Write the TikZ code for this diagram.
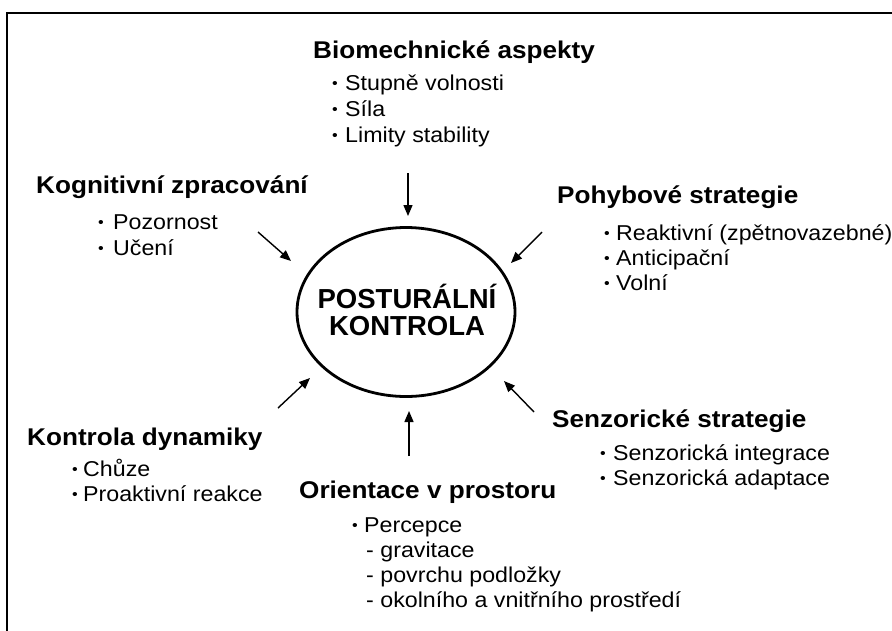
\documentclass[tikz,border=0pt]{standalone}
\usepackage{fontspec}
\setmainfont{Liberation Sans}[FakeStretch=1.08]
\newfontfamily\cfont{Liberation Sans}[FakeStretch=1.0]
\usetikzlibrary{shapes.geometric,arrows.meta}
\newcommand\bul[1]{\makebox[#1][l]{\fontsize{15}{15}\selectfont\raisebox{1.5pt}{•}}}
\begin{document}
\begin{tikzpicture}[x=1pt,y=-1pt,
 head/.style={font=\fontsize{24.2}{28}\selectfont\bfseries, anchor=base west, inner sep=0},
 itm/.style={font=\fontsize{21.5}{25}\selectfont, anchor=base west, inner sep=0},
 ctr/.style={font=\cfont\fontsize{27.5}{31}\selectfont\bfseries, anchor=base, inner sep=0},
 arr/.style={line width=1.4pt, -{Triangle[length=11pt,width=9pt]}},
 frame/.style={line width=2.5pt}]
\useasboundingbox (0,0) rectangle (892,630);
\fill[white] (0,0) rectangle (892,630);
% frame
\coordinate (fa) at (7,631);
\coordinate (fb) at (7,13);
\coordinate (fc) at (893,13);
\draw[frame] (fa) -- (fb) -- (fc);
% centre
\node[ellipse, draw, line width=2.8pt, minimum width=218pt, minimum height=169pt, inner sep=0] (ell) at (406,312) {};
\node[ctr] (c1) at (407,308) {POSTURÁLNÍ};
\node[ctr] (c2) at (407,335) {KONTROLA};
% Biomechanicke
\node[head] (h1) at (313,58) {Biomechnické aspekty};
\node[itm] (h1a) at (332,90) {\bul{13pt}Stupně volnosti};
\node[itm] (h1b) at (332,116) {\bul{13pt}Síla};
\node[itm] (h1c) at (332,142) {\bul{13pt}Limity stability};
% Kognitivni
\node[head] (h2) at (36,193) {Kognitivní zpracování};
\node[itm] (h2a) at (98,229) {\bul{15pt}Pozornost};
\node[itm] (h2b) at (98,255) {\bul{15pt}Učení};
% Pohybove
\node[head] (h3) at (557,203) {Pohybové strategie};
\node[itm] (h3a) at (604,240) {\bul{12pt}Reaktivní (zpětnovazebné)};
\node[itm] (h3b) at (604,265) {\bul{12pt}Anticipační};
\node[itm] (h3c) at (604,290) {\bul{12pt}Volní};
% Kontrola dynamiky
\node[head] (h4) at (27,445) {Kontrola dynamiky};
\node[itm] (h4a) at (72,476) {\bul{11pt}Chůze};
\node[itm] (h4b) at (72,501) {\bul{11pt}Proaktivní reakce};
% Senzoricke
\node[head] (h5) at (552,427) {Senzorické strategie};
\node[itm] (h5a) at (600,460) {\bul{13pt}Senzorická integrace};
\node[itm] (h5b) at (600,485) {\bul{13pt}Senzorická adaptace};
% Orientace
\node[head] (h6) at (299,498) {Orientace v prostoru};
\node[itm] (h6a) at (352,532) {\bul{12pt}Percepce};
\node[itm] (h6b) at (366,557) {- gravitace};
\node[itm] (h6c) at (366,582) {- povrchu podložky};
\node[itm] (h6d) at (366,607) {- okolního a vnitřního prostředí};
% arrows
\coordinate (t1) at (408,173); \coordinate (p1) at (408,216);
\coordinate (t2) at (258,232); \coordinate (p2) at (291,261);
\coordinate (t3) at (542,232); \coordinate (p3) at (511,263);
\coordinate (t4) at (278,408); \coordinate (p4) at (310,378);
\coordinate (t5) at (409,456); \coordinate (p5) at (409,411);
\coordinate (t6) at (534,412); \coordinate (p6) at (504,381);
\draw[arr] (t1) -- (p1);
\draw[arr] (t2) -- (p2);
\draw[arr] (t3) -- (p3);
\draw[arr] (t4) -- (p4);
\draw[arr] (t5) -- (p5);
\draw[arr] (t6) -- (p6);
\end{tikzpicture}
\end{document}
